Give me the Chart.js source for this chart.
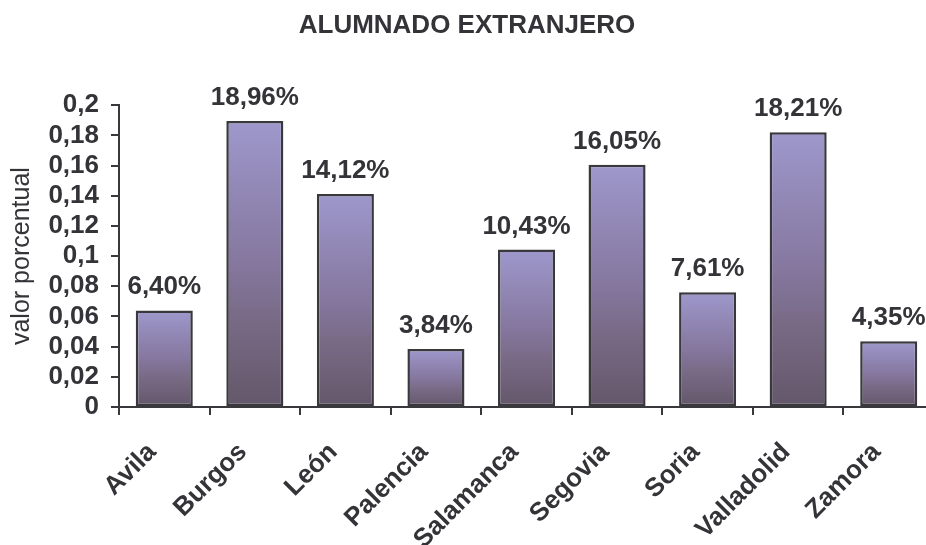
<!DOCTYPE html>
<html>
<head>
<meta charset="utf-8">
<script src="https://cdn.jsdelivr.net/npm/chart.js@4/dist/chart.umd.min.js"></script>
<style>
	html, body { margin: 0; padding: 0; background: #fff; overflow: hidden; }
	canvas { display: block; }
</style>
</head>
<body>
<canvas id="chartAlumnado" width="950" height="545"></canvas>
<script>
'use strict'

// ALUMNADO EXTRANJERO
const provincias = ['Avila', 'Burgos', 'León', 'Palencia', 'Salamanca', 'Segovia', 'Soria', 'Valladolid', 'Zamora'];
const porcentajes = [0.064, 0.1896, 0.1412, 0.0384, 0.1043, 0.1605, 0.0761, 0.1821, 0.0435];
const yTicks = [0, 0.02, 0.04, 0.06, 0.08, 0.1, 0.12, 0.14, 0.16, 0.18, 0.2];

const textColor = '#333338';
const axisColor = '#38383d';
const fontFamily = '"Liberation Sans", Arial, sans-serif';

const barGradient = function(context) {
	const chart = context.chart;
	if (!chart.chartArea) return '#8a7fae';
	const y = chart.scales.y;
	const top = y.getPixelForValue(context.raw);
	const base = y.getPixelForValue(0);
	const g = chart.ctx.createLinearGradient(0, top, 0, base);
	g.addColorStop(0, '#9e98cc');
	g.addColorStop(0.5, '#85779e');
	g.addColorStop(0.7, '#786a85');
	g.addColorStop(1, '#63576a');
	return g;
};

const fmt = v => String(+v.toFixed(2)).replace('.', ',');

const valueLabels = {
	id: 'valueLabels',
	afterDatasetsDraw(chart) {
		const {ctx} = chart;
		ctx.save();
		ctx.font = 'bold 26px ' + fontFamily;
		ctx.fillStyle = textColor;
		ctx.textAlign = 'center';
		ctx.textBaseline = 'alphabetic';
		chart.getDatasetMeta(0).data.forEach((bar, i) => {
			const text = (porcentajes[i] * 100).toFixed(2).replace('.', ',') + '%';
			ctx.fillText(text, bar.x, bar.y - 16);
		});
		ctx.restore();
	},
};

let chartAlumnado = new Chart(document.getElementById('chartAlumnado'), {
	type: 'bar',
	data: {
		labels: provincias,
		datasets: [{
			data: porcentajes,
			backgroundColor: barGradient,
			borderColor: axisColor,
			borderWidth: 2.5,
			borderSkipped: false,
			barPercentage: 0.63,
			categoryPercentage: 1,
		}],
	},
	options: {
		responsive: false,
		animation: false,
		events: [],
		layout: {
			padding: {left: 0, right: 16, top: 0, bottom: 0},
		},
		plugins: {
			legend: {display: false},
			tooltip: {enabled: false},
			title: {
				display: true,
				text: 'ALUMNADO EXTRANJERO',
				color: textColor,
				font: {family: fontFamily, size: 26, weight: 'bold', lineHeight: 1.2},
				padding: {top: 10, bottom: 64},
			},
		},
		scales: {
			x: {
				afterFit: s => { s.height = 138; },
				border: {color: axisColor, width: 2},
				grid: {
					drawOnChartArea: false,
					drawTicks: true,
					tickLength: 8,
					color: axisColor,
					lineWidth: 2,
				},
				ticks: {
					color: textColor,
					font: {family: fontFamily, size: 26, weight: 'bold'},
					minRotation: 45,
					maxRotation: 45,
					autoSkip: false,
					padding: 22,
					labelOffset: -12,
				},
			},
			y: {
				min: 0,
				max: 0.2,
				afterFit: s => { s.width = 119; },
				afterBuildTicks: s => { s.ticks = yTicks.map(v => ({value: v})); },
				border: {color: axisColor, width: 2},
				grid: {
					drawOnChartArea: false,
					drawTicks: true,
					tickLength: 8,
					color: axisColor,
					lineWidth: 2,
				},
				ticks: {
					color: textColor,
					font: {family: fontFamily, size: 26, weight: 'bold', lineHeight: 1},
					autoSkip: false,
					padding: 12,
					callback: v => fmt(v),
				},
				title: {
					display: true,
					text: 'valor porcentual',
					color: textColor,
					font: {family: fontFamily, size: 25, lineHeight: 1.2},
					padding: {top: 7, bottom: 0},
				},
			},
		},
	},
	plugins: [valueLabels],
});
</script>
</body>
</html>
